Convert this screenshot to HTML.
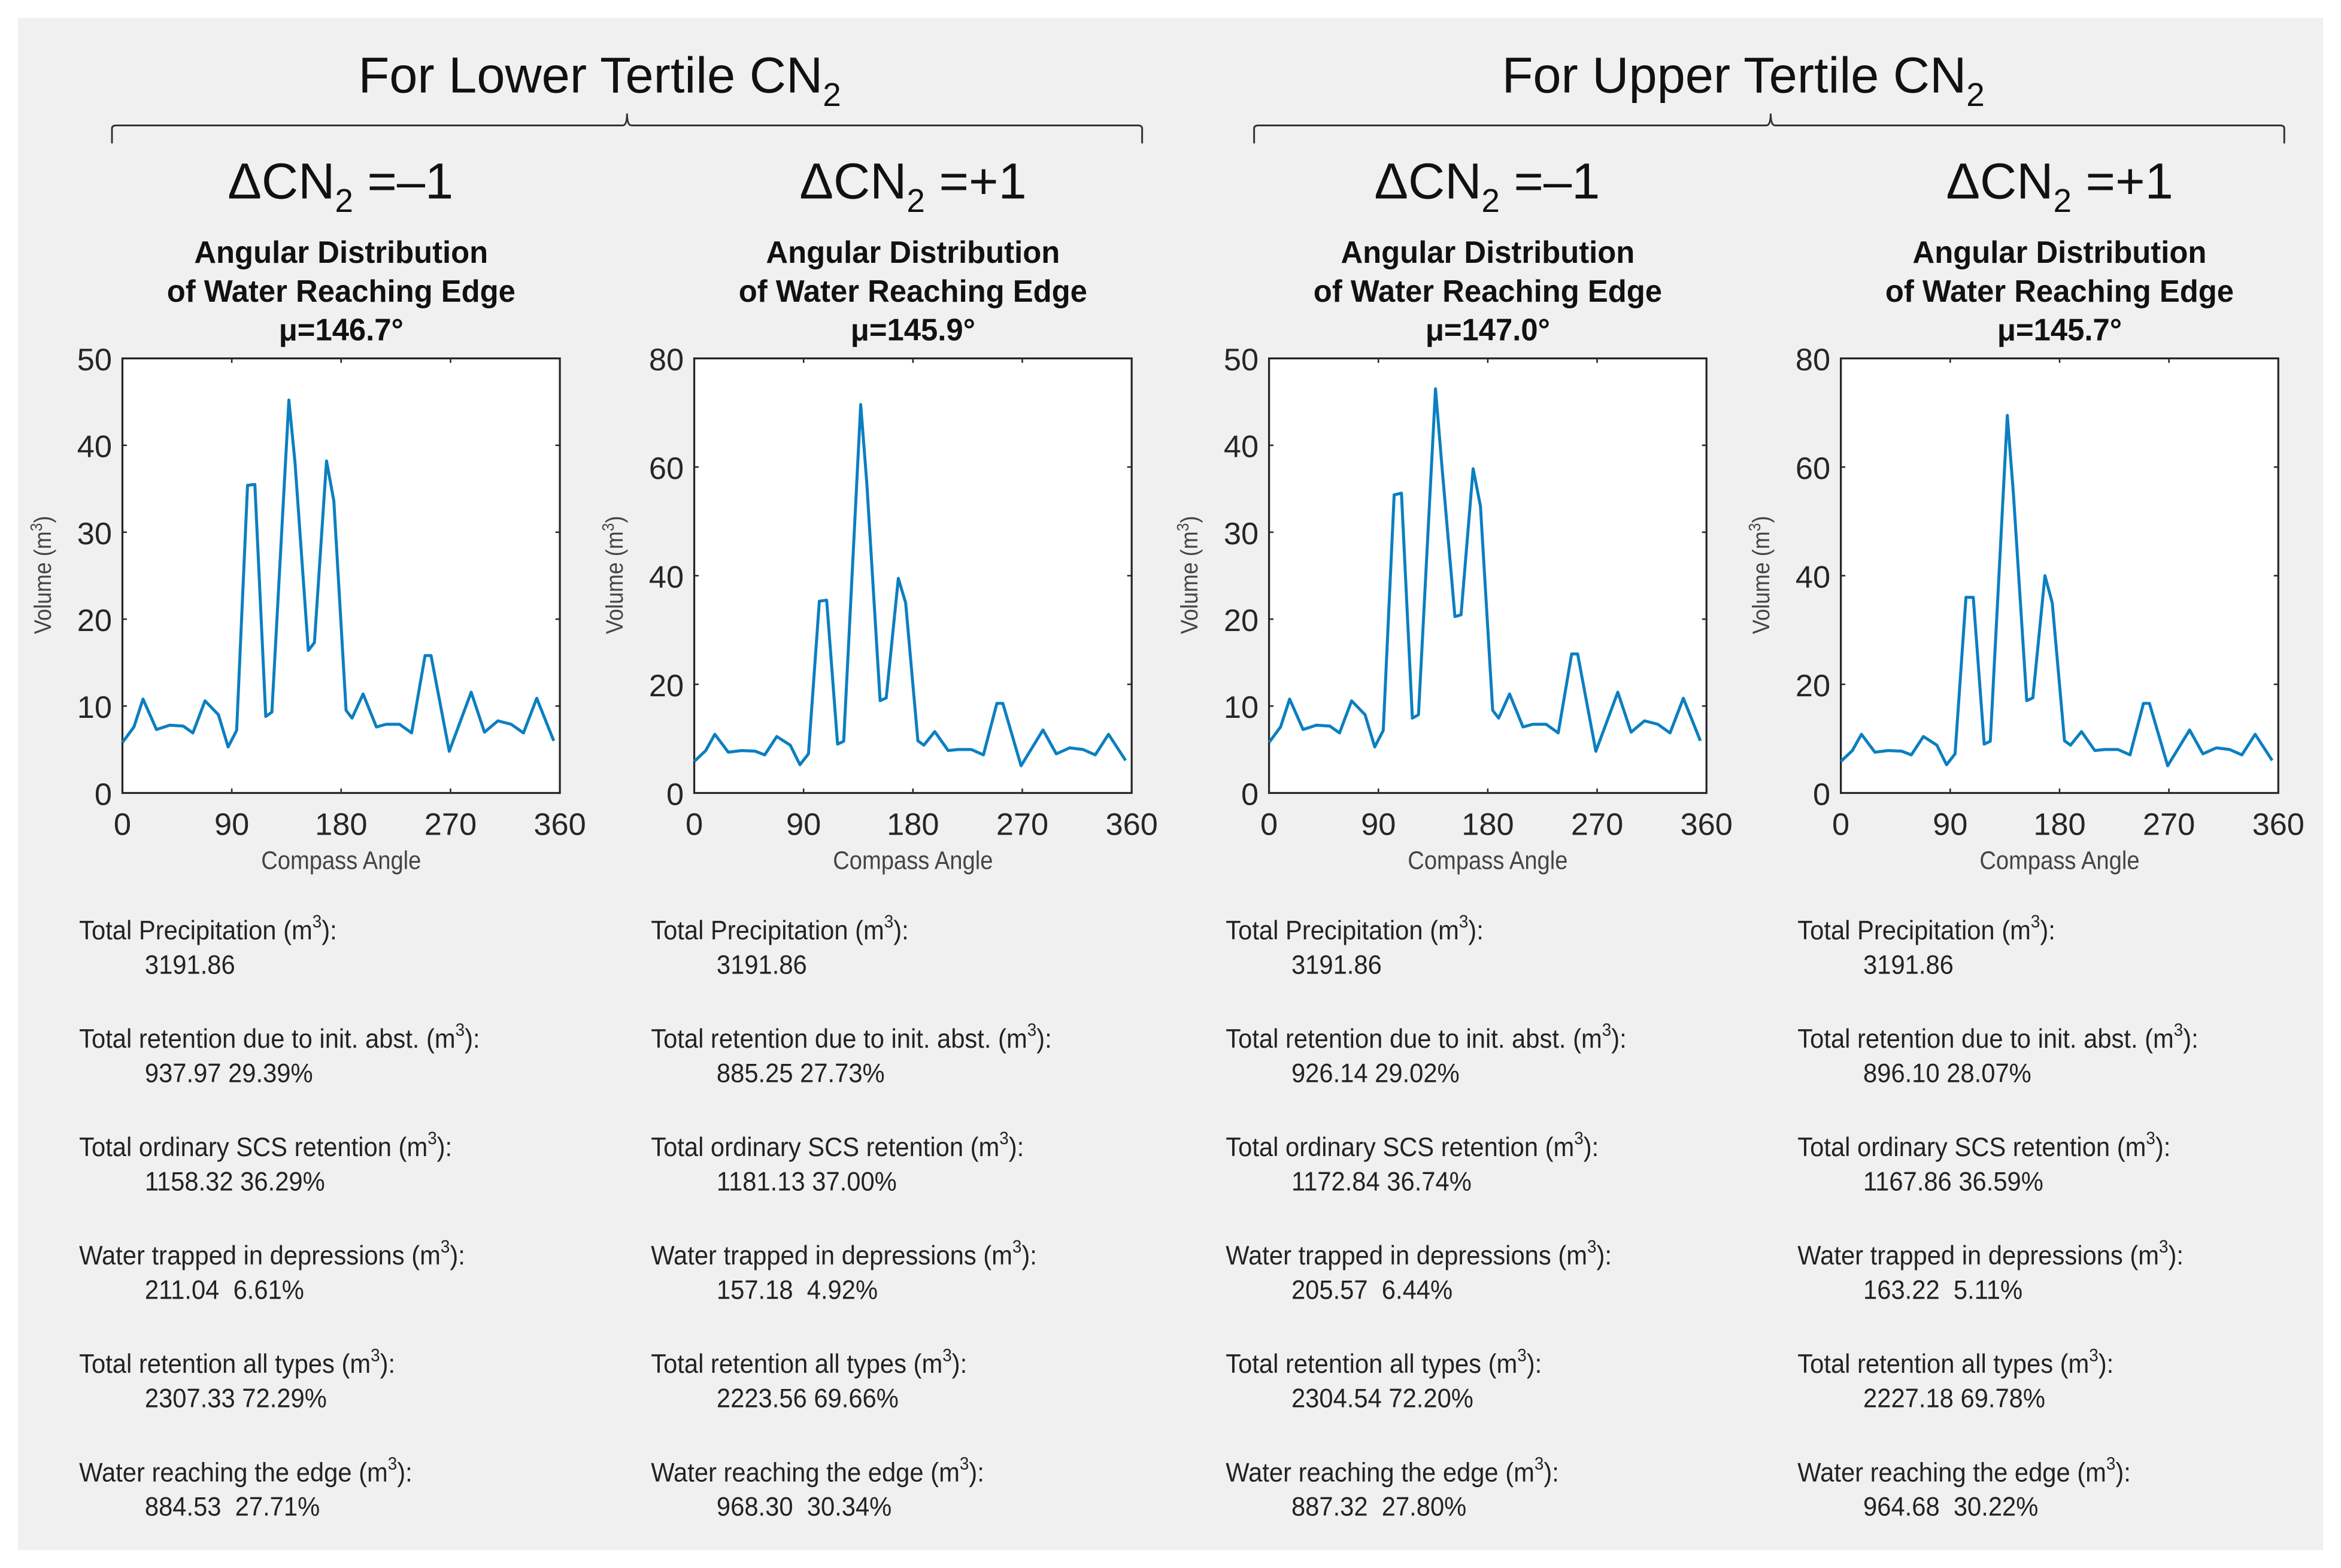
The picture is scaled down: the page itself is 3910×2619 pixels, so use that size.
<!DOCTYPE html>
<html><head><meta charset="utf-8"><style>
html,body{margin:0;padding:0;background:#fff;}
svg{display:block;}
text{font-family:"Liberation Sans",sans-serif;white-space:pre;}
</style></head><body>
<svg id="fig" width="3910" height="2619" viewBox="0 0 1568 1050" preserveAspectRatio="none" xmlns="http://www.w3.org/2000/svg">
<rect x="12" y="12" width="1544" height="1026" fill="#f0f0f0"/>
<g id="hdrGroup"></g>
<g id="chartsGroup"></g>
<g id="statsGroup"></g>
</svg>
<script>
const angles = [0,9.5,17,28,39,50,58,68,79,87,94,103,109,118,123,137,142,153,158,168,174,184,189,198,209,217,228,238,249,254,269,287,298,309,320,330,341,355];
const valuesA = [5.8,7.6,10.8,7.3,7.8,7.7,6.9,10.6,9,5.3,7.2,35.4,35.5,8.8,9.3,45.2,38,16.4,17.3,38.2,33.6,9.5,8.6,11.4,7.6,7.9,7.9,6.9,15.8,15.8,4.8,11.6,7,8.3,7.9,6.9,10.9,6];
const valuesB = [5.8,7.8,10.8,7.5,7.8,7.7,7,10.4,8.8,5.2,7.2,35.3,35.5,9,9.5,71.5,57,17,17.5,39.5,35,9.6,8.8,11.3,7.8,8,8,7,16.5,16.5,5,11.6,7.2,8.3,8,7,10.8,6];
const valuesC = [5.8,7.6,10.8,7.3,7.8,7.7,6.9,10.6,9,5.3,7.2,34.3,34.5,8.6,9,46.5,38,20.3,20.5,37.3,33,9.5,8.6,11.4,7.6,7.9,7.9,6.9,16,16,4.8,11.6,7,8.3,7.9,6.9,10.9,6];
const valuesD = [5.8,7.8,10.8,7.5,7.8,7.7,7,10.4,8.8,5.2,7.2,36,36,9,9.5,69.5,55,17,17.5,40,35,9.6,8.8,11.3,7.8,8,8,7,16.5,16.5,5,11.6,7.2,8.3,8,7,10.8,6];
const xTicks = [0,90,180,270,360];
const yTicks50 = [0,10,20,30,40,50];
const yTicks80 = [0,20,40,60,80];
const means = ["146.7","145.9","147.0","145.7"];
const deltas = ["\u2013","+","\u2013","+"];
const statLabels = ["Total Precipitation","Total retention due to init. abst.","Total ordinary SCS retention","Water trapped in depressions","Total retention all types","Water reaching the edge"];
const statValsA = ["3191.86","937.97 29.39%","1158.32 36.29%","211.04  6.61%","2307.33 72.29%","884.53  27.71%"];
const statValsB = ["3191.86","885.25 27.73%","1181.13 37.00%","157.18  4.92%","2223.56 69.66%","968.30  30.34%"];
const statValsC = ["3191.86","926.14 29.02%","1172.84 36.74%","205.57  6.44%","2304.54 72.20%","887.32  27.80%"];
const statValsD = ["3191.86","896.10 28.07%","1167.86 36.59%","163.22  5.11%","2227.18 69.78%","964.68  30.22%"];

const SVGNS="http://www.w3.org/2000/svg";
function mk(tag,attrs,parent,txt){const e=document.createElementNS(SVGNS,tag);for(const k in attrs)e.setAttribute(k,attrs[k]);if(txt!==undefined)e.textContent=txt;parent.appendChild(e);return e;}
const hdrG=document.getElementById('hdrGroup'), chartsG=document.getElementById('chartsGroup'), statsG=document.getElementById('statsGroup');

[[75,765,420,"For Lower Tertile CN"],[840,1530,1186,"For Upper Tertile CN"]].forEach(([x1,x2,xm,t],i)=>{
  const tt=mk('text',{x:xm-180,y:62,'font-size':34,fill:'#111'},hdrG);
  
  
  tt.textContent=t;
  mk('tspan',{'font-size':22,dy:9},tt,'2');
  const p=mk('path',{d:`M${x1},96 L${x1},86 Q${x1},84 ${x1+3},84 L${xm-3},84 Q${xm},84 ${xm},76 Q${xm},84 ${xm+3},84 L${x2-3},84 Q${x2},84 ${x2},86 L${x2},96`,fill:'none',stroke:'#333','stroke-width':1.2},hdrG);
  
  
});

const lefts=[82,465,850,1233], W=293, T=240, B=531;
const series=[valuesA,valuesB,valuesC,valuesD];
const ymaxs=[50,80,50,80];
const ytks=[yTicks50,yTicks80,yTicks50,yTicks80];
const svals=[statValsA,statValsB,statValsC,statValsD];

lefts.forEach((L,ci)=>{
  const g=mk('g',{},chartsG);
  
  
  const cx=L+W/2;
  const d=mk('text',{x:cx-76,y:133,'font-size':34,fill:'#111'},g);
  
  
  d.textContent='\u0394CN';
  mk('tspan',{'font-size':22,dy:9},d,'2');
  mk('tspan',{dy:-9},d,' ='+deltas[ci]+'1');
  ['Angular Distribution','of Water Reaching Edge','\u03bc='+means[ci]+'\u00b0'].forEach((s,k)=>{
    const t=mk('text',{x:cx,y:176+k*26,'font-size':21,'font-weight':'bold','text-anchor':'middle',fill:'#111',transform:`translate(${cx},0) scale(0.97,1) translate(${-cx},0)`},g,s);
    
    
  });
  const r=mk('rect',{x:L,y:T,width:W,height:B-T,fill:'#fff',stroke:'#262626','stroke-width':1.3},g);
  
  
  const xs=v=>L+v/360*W, ys=v=>B-v/ymaxs[ci]*(B-T);
  xTicks.forEach(v=>{
    const x=xs(v);
    mk('line',{x1:x,x2:x,y1:B,y2:B-3,stroke:'#262626','stroke-width':1},g);
    mk('line',{x1:x,x2:x,y1:T,y2:T+3,stroke:'#262626','stroke-width':1},g);
    const t=mk('text',{x:x,y:559,'font-size':21,'text-anchor':'middle',fill:'#262626'},g,String(v));
    
    
  });
  ytks[ci].forEach(v=>{
    const y=ys(v);
    mk('line',{x1:L,x2:L+3,y1:y,y2:y,stroke:'#262626','stroke-width':1},g);
    mk('line',{x1:L+W,x2:L+W-3,y1:y,y2:y,stroke:'#262626','stroke-width':1},g);
    const t=mk('text',{x:L-7,y:y+8,'font-size':21,'text-anchor':'end',fill:'#262626'},g,String(v));
    
    
  });
  const xl=mk('text',{x:cx,y:582,'font-size':17,'text-anchor':'middle',fill:'#444',transform:`translate(${cx},0) scale(0.9,1) translate(${-cx},0)`},g,'Compass Angle');
  
  
  const yl=mk('text',{x:0,y:0,'font-size':16,'text-anchor':'middle',fill:'#444',transform:`translate(${L-48},385) rotate(-90) scale(0.9,1)`},g);
  
  
  yl.textContent='Volume (m';
  mk('tspan',{'font-size':11,dy:-6},yl,'3');
  mk('tspan',{dy:6},yl,')');
  const pts=angles.map((a,i)=>xs(a).toFixed(1)+','+ys(series[ci][i]).toFixed(1)).join(' ');
  const pl=mk('polyline',{points:pts,fill:'none',stroke:'#0b7fc0','stroke-width':2,'stroke-linejoin':'round'},g);
  
  

  const sx=L-29;
  statLabels.forEach((lab,k)=>{
    const y=629+k*72.6;
    const t=mk('text',{x:sx,y:y,'font-size':18,fill:'#222',transform:`translate(${sx},0) scale(0.93,1) translate(${-sx},0)`},statsG);
    
    
    t.textContent=lab+' (m';
    mk('tspan',{'font-size':12,dy:-8},t,'3');
    mk('tspan',{dy:8},t,'):');
    const v=mk('text',{x:sx+44,y:y+23,'font-size':18,fill:'#222',transform:`translate(${sx+44},0) scale(0.93,1) translate(${-(sx+44)},0)`},statsG,svals[ci][k]);
    
    
  });
});
</script>
</body></html>
